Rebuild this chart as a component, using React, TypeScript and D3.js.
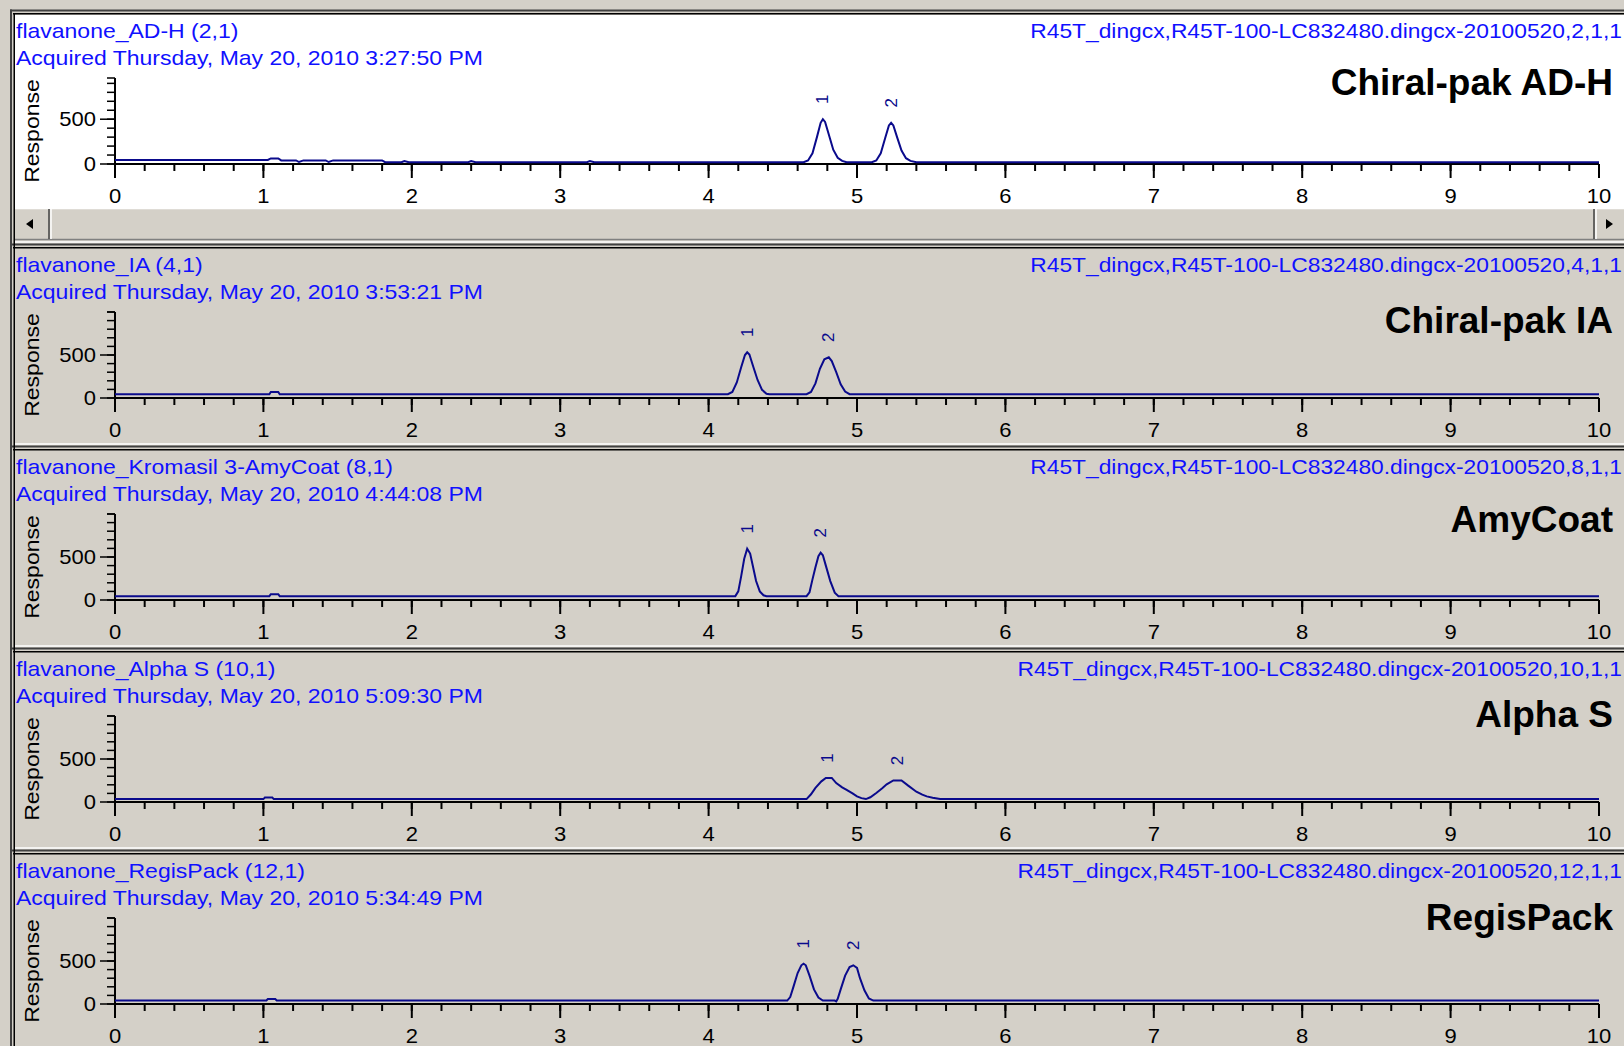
import React from "react";
import * as d3 from "d3";

const W = 1624;
const H = 1046;

// header texts, one per injection
const sampleNames = [
  "flavanone_AD-H (2,1)",
  "flavanone_IA (4,1)",
  "flavanone_Kromasil 3-AmyCoat  (8,1)",
  "flavanone_Alpha S (10,1)",
  "flavanone_RegisPack (12,1)",
];
const acquiredLines = [
  "Acquired Thursday, May 20, 2010 3:27:50 PM",
  "Acquired Thursday, May 20, 2010 3:53:21 PM",
  "Acquired Thursday, May 20, 2010 4:44:08 PM",
  "Acquired Thursday, May 20, 2010 5:09:30 PM",
  "Acquired Thursday, May 20, 2010 5:34:49 PM",
];
const fileIds = [
  "R45T_dingcx,R45T-100-LC832480.dingcx-20100520,2,1,1",
  "R45T_dingcx,R45T-100-LC832480.dingcx-20100520,4,1,1",
  "R45T_dingcx,R45T-100-LC832480.dingcx-20100520,8,1,1",
  "R45T_dingcx,R45T-100-LC832480.dingcx-20100520,10,1,1",
  "R45T_dingcx,R45T-100-LC832480.dingcx-20100520,12,1,1",
];
const columnNames = ["Chiral-pak AD-H", "Chiral-pak IA", "AmyCoat", "Alpha S", "RegisPack"];

// axes
const timeDomain = [0, 10];
const timeLabels = [0, 1, 2, 3, 4, 5, 6, 7, 8, 9, 10];
const responseTops = [960, 1000, 1000, 1000, 1000];
const responseLabels = [0, 500];

// peak annotations (retention time, min)
const peakNames = ["1", "2"];
const peakTimes = [
  [4.77, 5.23],
  [4.26, 4.81],
  [4.26, 4.755],
  [4.8, 5.27],
  [4.64, 4.975],
];

// traces: [time, response]
const adhTrace = [
  [0, 45], [1.03, 45], [1.05, 62], [1.1, 62], [1.12, 40], [1.22, 40], [1.24, 22], [1.27, 40],
  [1.42, 40], [1.44, 22], [1.47, 40], [1.8, 40], [1.82, 20], [1.93, 20], [1.95, 32], [1.98, 20],
  [2.38, 20], [2.4, 32], [2.43, 20], [3.18, 20], [3.2, 32], [3.23, 20],
  [4.64, 20], [4.67, 40], [4.7, 120], [4.73, 300], [4.755, 460], [4.77, 500], [4.785, 470],
  [4.81, 330], [4.84, 160], [4.87, 70], [4.9, 35], [4.93, 20],
  [5.1, 20], [5.13, 40], [5.16, 120], [5.19, 290], [5.215, 430], [5.23, 460], [5.245, 430],
  [5.27, 300], [5.3, 150], [5.33, 65], [5.36, 35], [5.4, 20], [10, 20],
];
const iaTrace = [
  [0, 44], [1.04, 44], [1.05, 70], [1.1, 70], [1.11, 44],
  [4.13, 44], [4.16, 70], [4.19, 180], [4.22, 360], [4.245, 500], [4.26, 532], [4.275, 505],
  [4.3, 370], [4.33, 210], [4.36, 95], [4.39, 50], [4.41, 44],
  [4.66, 44], [4.69, 70], [4.72, 170], [4.75, 340], [4.78, 450], [4.81, 473], [4.83, 430],
  [4.86, 300], [4.89, 160], [4.92, 75], [4.95, 44], [10, 44],
];
const amyTrace = [
  [0, 45], [1.04, 45], [1.05, 68], [1.1, 68], [1.11, 45],
  [4.18, 45], [4.2, 100], [4.22, 280], [4.24, 480], [4.26, 597], [4.28, 540], [4.3, 380],
  [4.32, 220], [4.345, 100], [4.37, 55], [4.39, 45],
  [4.66, 45], [4.68, 90], [4.7, 240], [4.72, 380], [4.74, 510], [4.755, 550], [4.77, 520],
  [4.79, 400], [4.82, 220], [4.85, 85], [4.875, 45], [10, 45],
];
const alphaTrace = [
  [0, 34], [1.0, 34], [1.01, 52], [1.06, 52], [1.07, 34],
  [4.66, 34], [4.69, 90], [4.72, 165], [4.76, 240], [4.79, 280], [4.83, 280], [4.86, 220],
  [4.9, 170], [4.93, 140], [4.97, 100], [5.0, 65], [5.03, 45], [5.06, 34],
  [5.09, 55], [5.13, 105], [5.17, 160], [5.2, 205], [5.245, 250], [5.3, 250], [5.345, 190],
  [5.4, 120], [5.44, 85], [5.47, 65], [5.51, 50], [5.54, 40], [5.56, 34], [10, 34],
];
const regisTrace = [
  [0, 40], [1.02, 40], [1.03, 58], [1.08, 58], [1.09, 40],
  [4.53, 40], [4.55, 80], [4.57, 190], [4.6, 360], [4.625, 450], [4.64, 468], [4.655, 450],
  [4.68, 330], [4.71, 170], [4.74, 75], [4.77, 40],
  [4.85, 40], [4.86, 30], [4.87, 60], [4.89, 170], [4.92, 330], [4.95, 430], [4.975, 450],
  [5.0, 420], [5.02, 300], [5.05, 160], [5.08, 65], [5.11, 40], [10, 40],
];
const traces = [adhTrace, iaTrace, amyTrace, alphaTrace, regisTrace];

// layout
const panelTops = [13, 247, 449, 651, 853];
const columnBaselines = [82, 86, 83, 76, 77];
const GRAY = "#d4d0c8";
const BLUE = "#1010ff";
const NAVY = "#0a0a8c";
const FONT = "'Liberation Sans', Arial, sans-serif";

const x = d3.scaleLinear().domain(timeDomain).range([115, 1599]);

function Panel({ i }) {
  const T = panelTops[i];
  const y = d3.scaleLinear().domain([0, responseTops[i]]).range([T + 151, T + 65]);
  const line = d3
    .line()
    .x((d) => x(d[0]))
    .y((d) => y(d[1]));
  const y0 = y(0);
  const minorX = x.ticks(50);
  const minorY = y.ticks(10).concat([responseTops[i]]);

  return (
    <g>
      {/* blue header */}
      <text transform={`translate(16,${T + 25}) scale(1.15,1)`} fontSize={20} fill={BLUE}>
        {sampleNames[i]}
      </text>
      <text transform={`translate(16,${T + 52}) scale(1.15,1)`} fontSize={20} fill={BLUE}>
        {acquiredLines[i]}
      </text>
      <text
        transform={`translate(1622,${T + 25}) scale(1.14,1)`}
        fontSize={20}
        fill={BLUE}
        textAnchor="end"
      >
        {fileIds[i]}
      </text>
      <text
        x={1613}
        y={T + columnBaselines[i]}
        textAnchor="end"
        fontSize={37}
        fontWeight="bold"
        fill="#000"
      >
        {columnNames[i]}
      </text>

      {/* y axis */}
      <text
        transform={`translate(32,${T + 118}) rotate(-90) scale(1.15,1)`}
        fontSize={20}
        textAnchor="middle"
        dominantBaseline="central"
      >
        Response
      </text>
      <line x1={115} x2={115} y1={y(responseTops[i])} y2={y0} stroke="#000" strokeWidth={2} />
      {minorY.map((v) => (
        <line key={"my" + v} x1={107} x2={115} y1={y(v)} y2={y(v)} stroke="#000" strokeWidth={1.5} />
      ))}
      {responseLabels.map((v) => (
        <g key={"ly" + v}>
          <line x1={100} x2={115} y1={y(v)} y2={y(v)} stroke="#000" strokeWidth={1.5} />
          <text
            transform={`translate(96,${y(v) + 7}) scale(1.1,1)`}
            fontSize={20}
            textAnchor="end"
          >
            {v}
          </text>
        </g>
      ))}

      {/* x axis */}
      <line x1={115} x2={1599} y1={y0} y2={y0} stroke="#000" strokeWidth={2} />
      {minorX.map((v) => (
        <line key={"mx" + v} x1={x(v)} x2={x(v)} y1={y0} y2={y0 + 7} stroke="#000" strokeWidth={2} />
      ))}
      {timeLabels.map((v) => (
        <g key={"lx" + v}>
          <line x1={x(v)} x2={x(v)} y1={y0} y2={y0 + 14} stroke="#000" strokeWidth={2} />
          <text
            transform={`translate(${x(v)},${T + 190}) scale(1.1,1)`}
            fontSize={20}
            textAnchor="middle"
          >
            {v}
          </text>
        </g>
      ))}

      {/* trace */}
      <path d={line(traces[i])} fill="none" stroke={NAVY} strokeWidth={2} />

      {/* peak labels */}
      {peakTimes[i].map((rt, k) => {
        const top = d3.max(traces[i].filter((d) => Math.abs(d[0] - rt) < 0.1), (d) => d[1]);
        return (
          <text
            key={"pk" + k}
            transform={`translate(${x(rt)},${y(top) - 20}) rotate(-90)`}
            fontSize={17}
            fill={NAVY}
            textAnchor="middle"
            dominantBaseline="central"
          >
            {peakNames[k]}
          </text>
        );
      })}
    </g>
  );
}

export default function App() {
  return (
    <div style={{ position: "absolute", left: 0, top: 0 }}>
      <svg width={W} height={H} style={{ display: "block", fontFamily: FONT }}>
        <rect x={0} y={0} width={W} height={H} fill={GRAY} />
        <rect x={15} y={15} width={W - 15} height={193} fill="#fff" />

        {/* scrollbar of the first pane */}
        <g>
          <line x1={15} x2={W} y1={208.5} y2={208.5} stroke="#fff" strokeWidth={1.5} />
          <line x1={15} x2={W} y1={239.5} y2={239.5} stroke="#808080" strokeWidth={1.5} />
          <line x1={49} x2={49} y1={209} y2={239} stroke="#404040" strokeWidth={1.5} />
          <line x1={51} x2={51} y1={209} y2={239} stroke="#fff" strokeWidth={1.5} />
          <path d="M26,224 L33,219 L33,229 Z" fill="#000" />
          <line x1={1594} x2={1594} y1={209} y2={239} stroke="#404040" strokeWidth={1.5} />
          <line x1={1596} x2={1596} y1={209} y2={239} stroke="#fff" strokeWidth={1.5} />
          <path d="M1613,224 L1606,219 L1606,229 Z" fill="#000" />
        </g>

        {/* pane frames */}
        {panelTops.map((T, i) => (
          <g key={"fr" + i}>
            {i > 0 && <line x1={15} x2={W} y1={T - 5} y2={T - 5} stroke="#fff" strokeWidth={1.5} />}
            <line x1={10} x2={W} y1={T - 2.5} y2={T - 2.5} stroke="#404040" strokeWidth={2} />
            <line x1={13} x2={W} y1={T + 0.75} y2={T + 0.75} stroke="#000" strokeWidth={1.5} />
          </g>
        ))}
        <line x1={11} x2={11} y1={9.5} y2={H} stroke="#404040" strokeWidth={2} />
        <line x1={14.25} x2={14.25} y1={13} y2={H} stroke="#000" strokeWidth={1.5} />

        {panelTops.map((_, i) => (
          <Panel key={i} i={i} />
        ))}
      </svg>
    </div>
  );
}
